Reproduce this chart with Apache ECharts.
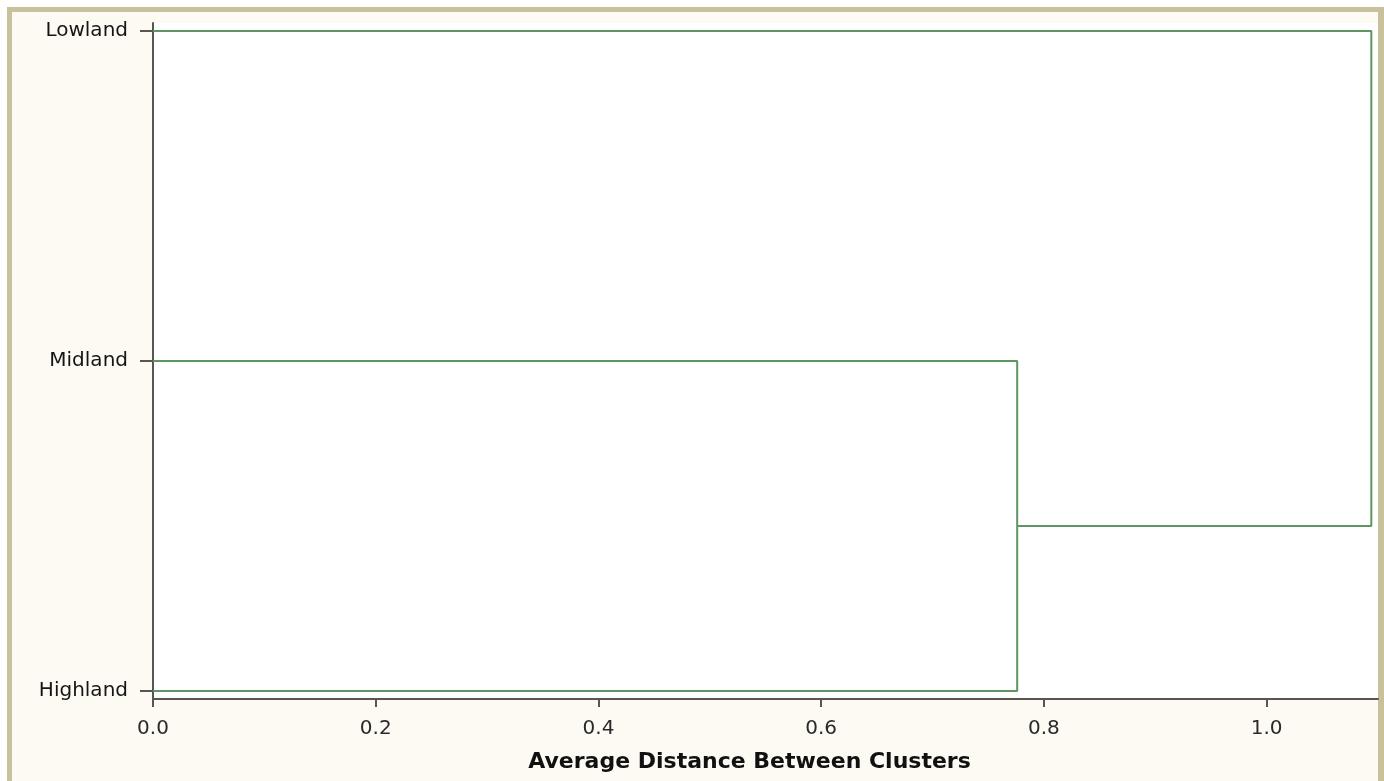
<!DOCTYPE html>
<html><head><meta charset="utf-8">
<script src="https://cdn.jsdelivr.net/npm/echarts@6/dist/echarts.min.js"></script>
<style>
html,body{margin:0;padding:0;background:#ffffff;width:1384px;height:781px;overflow:hidden}
#frame{position:absolute;left:7px;top:7px;width:1366px;height:790px;border-left:5px solid #c9c19c;border-top:5px solid #c9c19c;border-right:6px solid #c9c19c;background:#fdfaf3}
#chart{position:absolute;left:0;top:0;width:1384px;height:781px}
</style></head>
<body>
<div id="frame"></div>
<div id="chart"></div>
<script>
// Leaves from bottom to top
const leaves = ['Highland', 'Midland', 'Lowland'];
// Merges (in order) : children and merge height
const mergeNames = ['CL2', 'CL1'];
const mergeChildA = ['Midland', 'CL2'];
const mergeChildB = ['Highland', 'Lowland'];
const mergeHeights = [0.776, 1.094];
// Axis ticks
const xTicks = [0, 0.2, 0.4, 0.6, 0.8, 1.0];
const yTicks = [0, 1, 2];

const nodes = {};
leaves.forEach((n, i) => { nodes[n] = { y: i, h: 0 }; });
const series = [];
mergeNames.forEach((name, i) => {
  const a = nodes[mergeChildA[i]], b = nodes[mergeChildB[i]], h = mergeHeights[i];
  nodes[name] = { y: (a.y + b.y) / 2, h: h };
  series.push({
    type: 'line',
    data: [[a.h, a.y], [h, a.y], [h, b.y], [b.h, b.y]],
    symbol: 'none',
    silent: true,
    lineStyle: { color: '#5f9463', width: 2 },
    z: 3
  });
});

const axisColor = '#5a554f';
const chart = echarts.init(document.getElementById('chart'));
chart.setOption({
  animation: false,
  backgroundColor: 'transparent',
  grid: { left: 153, right: 6, top: 23, bottom: 82, show: true, backgroundColor: '#ffffff', borderWidth: 0 },
  xAxis: {
    type: 'value', min: 0, max: 1.1,
    name: 'Average Distance Between Clusters',
    nameLocation: 'middle', nameGap: 52,
    nameTextStyle: { fontFamily: 'DejaVu Sans', fontWeight: 'bold', fontSize: 22, color: '#111', padding: [0, 32, 0, 0] },
    axisLine: { show: true, onZero: false, lineStyle: { color: axisColor, width: 2 } },
    axisTick: { show: true, length: 8, customValues: xTicks, lineStyle: { color: axisColor, width: 2 } },
    axisLabel: { customValues: xTicks, formatter: v => v.toFixed(1), fontFamily: 'DejaVu Sans', fontSize: 20, color: '#2a2a2a', margin: 20 },
    splitLine: { show: false }
  },
  yAxis: {
    type: 'value', min: -0.0242, max: 2.0242,
    axisLine: { show: true, onZero: false, lineStyle: { color: axisColor, width: 2 } },
    axisTick: { show: true, length: 13, customValues: yTicks, lineStyle: { color: axisColor, width: 2 } },
    axisLabel: { customValues: yTicks, formatter: v => leaves[Math.round(v)], fontFamily: 'DejaVu Sans', fontSize: 20, color: '#151515', margin: 25 },
    splitLine: { show: false }
  },
  series: series
});
</script>
</body></html>
